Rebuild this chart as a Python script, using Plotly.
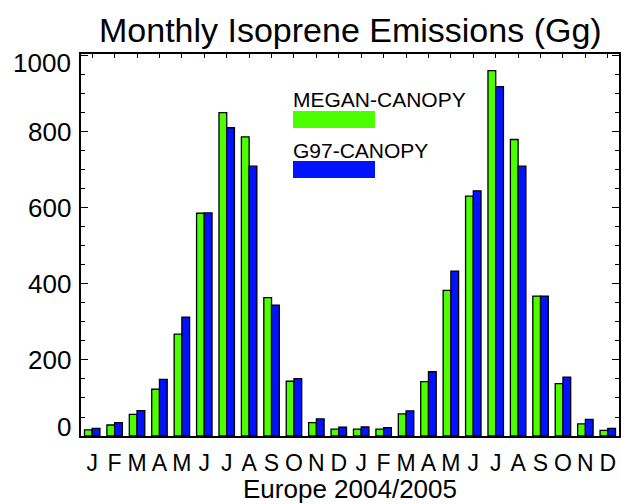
import plotly.graph_objects as go

month_labels = ["J", "F", "M", "A", "M", "J", "J", "A", "S", "O", "N", "D",
                "J", "F", "M", "A", "M", "J", "J", "A", "S", "O", "N", "D"]
megan_canopy = [16, 29, 57, 123, 268, 586, 851, 787, 364, 144, 35, 18,
                18, 18, 58, 143, 383, 631, 961, 780, 368, 138, 32, 15]
g97_canopy = [20, 35, 67, 149, 313, 587, 811, 710, 344, 151, 45, 23,
              24, 22, 66, 169, 434, 645, 919, 710, 368, 155, 44, 20]
series_names = ["MEGAN-CANOPY", "G97-CANOPY"]
y_ticks = [0, 200, 400, 600, 800, 1000]

GREEN = "rgb(76,255,0)"
BLUE = "rgb(0,18,255)"
FONT = "Liberation Sans, Arial, sans-serif"

x = list(range(len(month_labels)))

fig = go.Figure()
fig.add_trace(go.Bar(x=x, y=megan_canopy, name=series_names[0],
                     marker=dict(color=GREEN, line=dict(color="black", width=1.3))))
fig.add_trace(go.Bar(x=x, y=g97_canopy, name=series_names[1],
                     marker=dict(color=BLUE, line=dict(color="black", width=1.3))))

W, H = 621, 504
L, R, T, B = 81, 2, 54, 68

fig.update_layout(
    width=W, height=H,
    margin=dict(l=L, r=R, t=T, b=B, autoexpand=False),
    paper_bgcolor="white", plot_bgcolor="white",
    barmode="group", bargap=0.31, bargroupgap=0,
    showlegend=False,
    font=dict(family=FONT, color="black"),
)

fig.update_xaxes(
    range=[-0.5, len(month_labels) - 0.5],
    tickmode="array", tickvals=x, ticktext=month_labels,
    ticks="inside", ticklen=4, tickcolor="black", tickwidth=1,
    showline=True, linecolor="black", linewidth=1.5, mirror="ticks",
    showgrid=False, zeroline=False,
    tickfont=dict(size=23, family=FONT, color="black"),
    ticklabelstandoff=6,
    automargin=False,
    title=dict(text="Europe 2004/2005", font=dict(size=26, family=FONT, color="black"), standoff=0),
)
fig.update_yaxes(
    range=[0, 1005],
    tickmode="array", tickvals=y_ticks,
    showticklabels=False,
    ticks="inside", ticklen=7, tickcolor="black", tickwidth=1,
    minor=dict(dtick=50, ticks="inside", ticklen=4, tickcolor="black", tickwidth=1, showgrid=False),
    showline=True, linecolor="black", linewidth=1.5, mirror="ticks",
    showgrid=False, zeroline=False,
    automargin=False,
)

# Y tick labels (end labels nudged inward as in the reference)
for v in y_ticks:
    shift = 9 if v == y_ticks[0] else (-7 if v == y_ticks[-1] else 0)
    fig.add_annotation(text=str(v), xref="paper", yref="y", x=0, y=v,
                       xanchor="right", yanchor="middle", xshift=-8, yshift=shift,
                       showarrow=False, font=dict(size=26, family=FONT, color="black"))

# Title
fig.add_annotation(text="Monthly Isoprene Emissions (Gg)", xref="paper", yref="paper",
                   x=0.5, y=1.0, yshift=3, xanchor="center", yanchor="bottom",
                   showarrow=False, font=dict(size=34, family=FONT, color="black"))

# Legend drawn as text + swatches
plot_w = W - L - R
plot_h = H - T - B

def px_x(p):
    return (p - L) / plot_w

def px_y(p):
    return (H - B - p) / plot_h

legend_items = [(series_names[0], GREEN, 100, 111, 128),
                (series_names[1], BLUE, 150, 161, 178)]
for name, col, ty, r0, r1 in legend_items:
    fig.add_annotation(text=name, xref="paper", yref="paper", x=px_x(291), y=px_y(ty),
                       xanchor="left", yanchor="middle", showarrow=False,
                       font=dict(size=21, family=FONT, color="black"))
    fig.add_shape(type="rect", xref="paper", yref="paper",
                  x0=px_x(293), x1=px_x(375), y0=px_y(r1), y1=px_y(r0),
                  fillcolor=col, line=dict(width=0))

fig.write_html("out.html", config={"displayModeBar": False},
               post_script="document.body.style.margin='0';")
